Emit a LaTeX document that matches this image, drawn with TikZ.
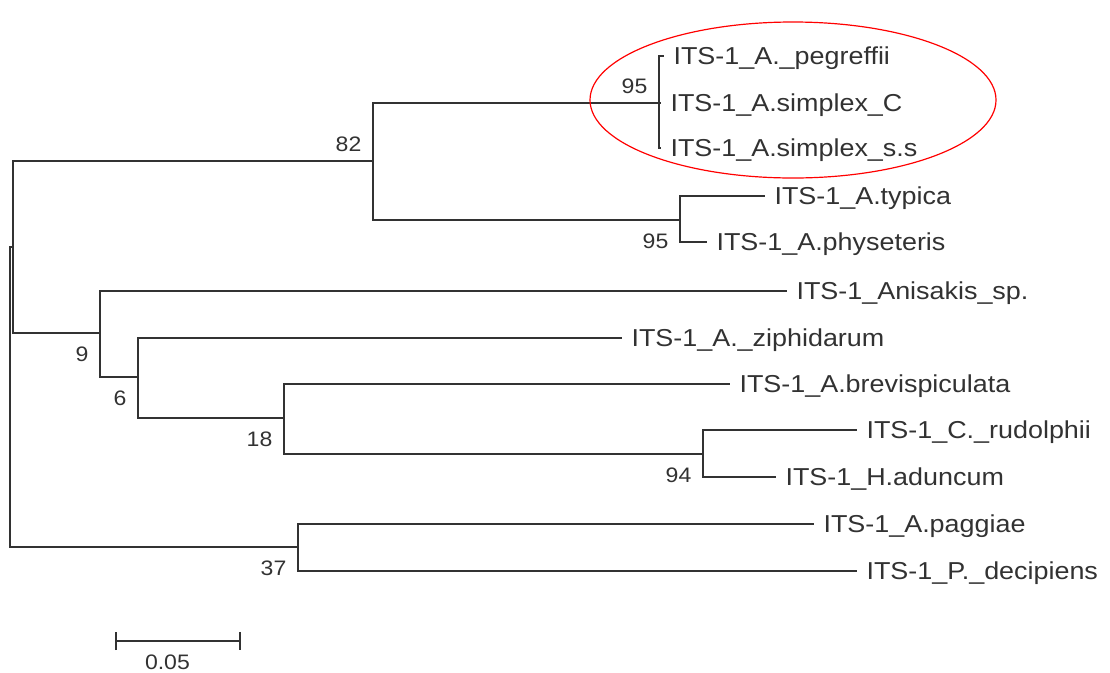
\documentclass[tikz,border=0pt]{standalone}
\usepackage{fontspec}
\newfontfamily\treefont[FakeStretch=1.1]{Liberation Sans}
\usepackage{tikz}
\usetikzlibrary{arrows.meta}
\definecolor{branch}{RGB}{50,50,50}
\tikzset{
  taxon/.style={ anchor=west, inner xsep=6pt, inner ysep=0pt, text height=12.4pt, text depth=0pt,
    text=branch, font=\treefont\fontsize{17.4pt}{20pt}\selectfont }
}
\tikzset{
  boot/.style={ anchor=east, inner sep=0pt, text height=10.6pt, text depth=0pt,
    text=branch, font=\treefont\fontsize{14.9pt}{17pt}\selectfont, xshift=-7.5pt }
}
\tikzset{
  bootup/.style={ boot, yshift=12pt }
}
\tikzset{
  bootdown/.style={ boot, yshift=-15pt }
}

\begin{document}
\begin{tikzpicture}[x=0.025cm, y=-0.025cm, line width=1.55pt, color=branch]
      \useasboundingbox (0, 0) rectangle (1110, 672);
      % inner nodes of the tree
      \coordinate (root) at (10, 397);
      \coordinate (nA) at (13, 247);
      \coordinate (n82) at (373, 161);
      \coordinate (n95a) at (659, 103);
      \coordinate (n95b) at (680, 220);
      \coordinate (n9) at (100, 333);
      \coordinate (n6) at (138, 377);
      \coordinate (n18) at (284, 418);
      \coordinate (n94) at (703, 454);
      \coordinate (n37) at (298, 547);
      % leaves
      \node[taxon] (peg) at (664, 56) {ITS-1\_A.\_pegreffii};
      \node[taxon] (simC) at (661, 103) {ITS-1\_A.simplex\_C};
      \node[taxon] (simS) at (661, 148) {ITS-1\_A.simplex\_s.s};
      \node[taxon] (typ) at (765, 196) {ITS-1\_A.typica};
      \node[taxon] (phy) at (707, 242) {ITS-1\_A.physeteris};
      \node[taxon] (ani) at (787, 291) {ITS-1\_Anisakis\_sp.};
      \node[taxon] (zip) at (622, 338) {ITS-1\_A.\_ziphidarum};
      \node[taxon] (bre) at (730, 384) {ITS-1\_A.brevispiculata};
      \node[taxon] (rud) at (857, 430) {ITS-1\_C.\_rudolphii};
      \node[taxon] (adu) at (776, 477) {ITS-1\_H.aduncum};
      \node[taxon] (pag) at (814, 524) {ITS-1\_A.paggiae};
      \node[taxon] (dec) at (857, 571) {ITS-1\_P.\_decipiens};
      % branches
      \draw (root) |- (nA);
      \draw (root) |- (n37);
      \draw (nA) |- (n82);
      \draw (nA) |- (n9);
      \draw (n82) |- (n95a);
      \draw (n82) |- (n95b);
      \draw (n95a) |- (peg.west);
      \draw (n95a) |- (simC.west);
      \draw (n95a) |- (simS.west);
      \draw (n95b) |- (typ.west);
      \draw (n95b) |- (phy.west);
      \draw (n9) |- (ani.west);
      \draw (n9) |- (n6);
      \draw (n6) |- (zip.west);
      \draw (n6) |- (n18);
      \draw (n18) |- (bre.west);
      \draw (n18) |- (n94);
      \draw (n94) |- (rud.west);
      \draw (n94) |- (adu.west);
      \draw (n37) |- (pag.west);
      \draw (n37) |- (dec.west);
      % bootstrap values
      \node[bootup] (b82) at (n82) {82};
      \node[bootup] (b95a) at (n95a) {95};
      \node[bootdown] (b95b) at (n95b) {95};
      \node[bootdown] (b9) at (n9) {9};
      \node[bootdown] (b6) at (n6) {6};
      \node[bootdown] (b18) at (n18) {18};
      \node[bootdown] (b94) at (n94) {94};
      \node[bootdown] (b37) at (n37) {37};
      % scale bar
      \coordinate (sbl) at (115, 641);
      \coordinate (sbr) at (241, 641);
      \draw[{Bar[width=13pt]}-{Bar[width=13pt]}] (sbl) -- (sbr);
      \node[boot, anchor=center, xshift=0pt] (sblab) at (178, 662) {0.05};
      % simplex complex
      \draw[red, line width=0.85pt] (793, 100) ellipse [x radius=203, y radius=78];
    \end{tikzpicture}
\end{document}
